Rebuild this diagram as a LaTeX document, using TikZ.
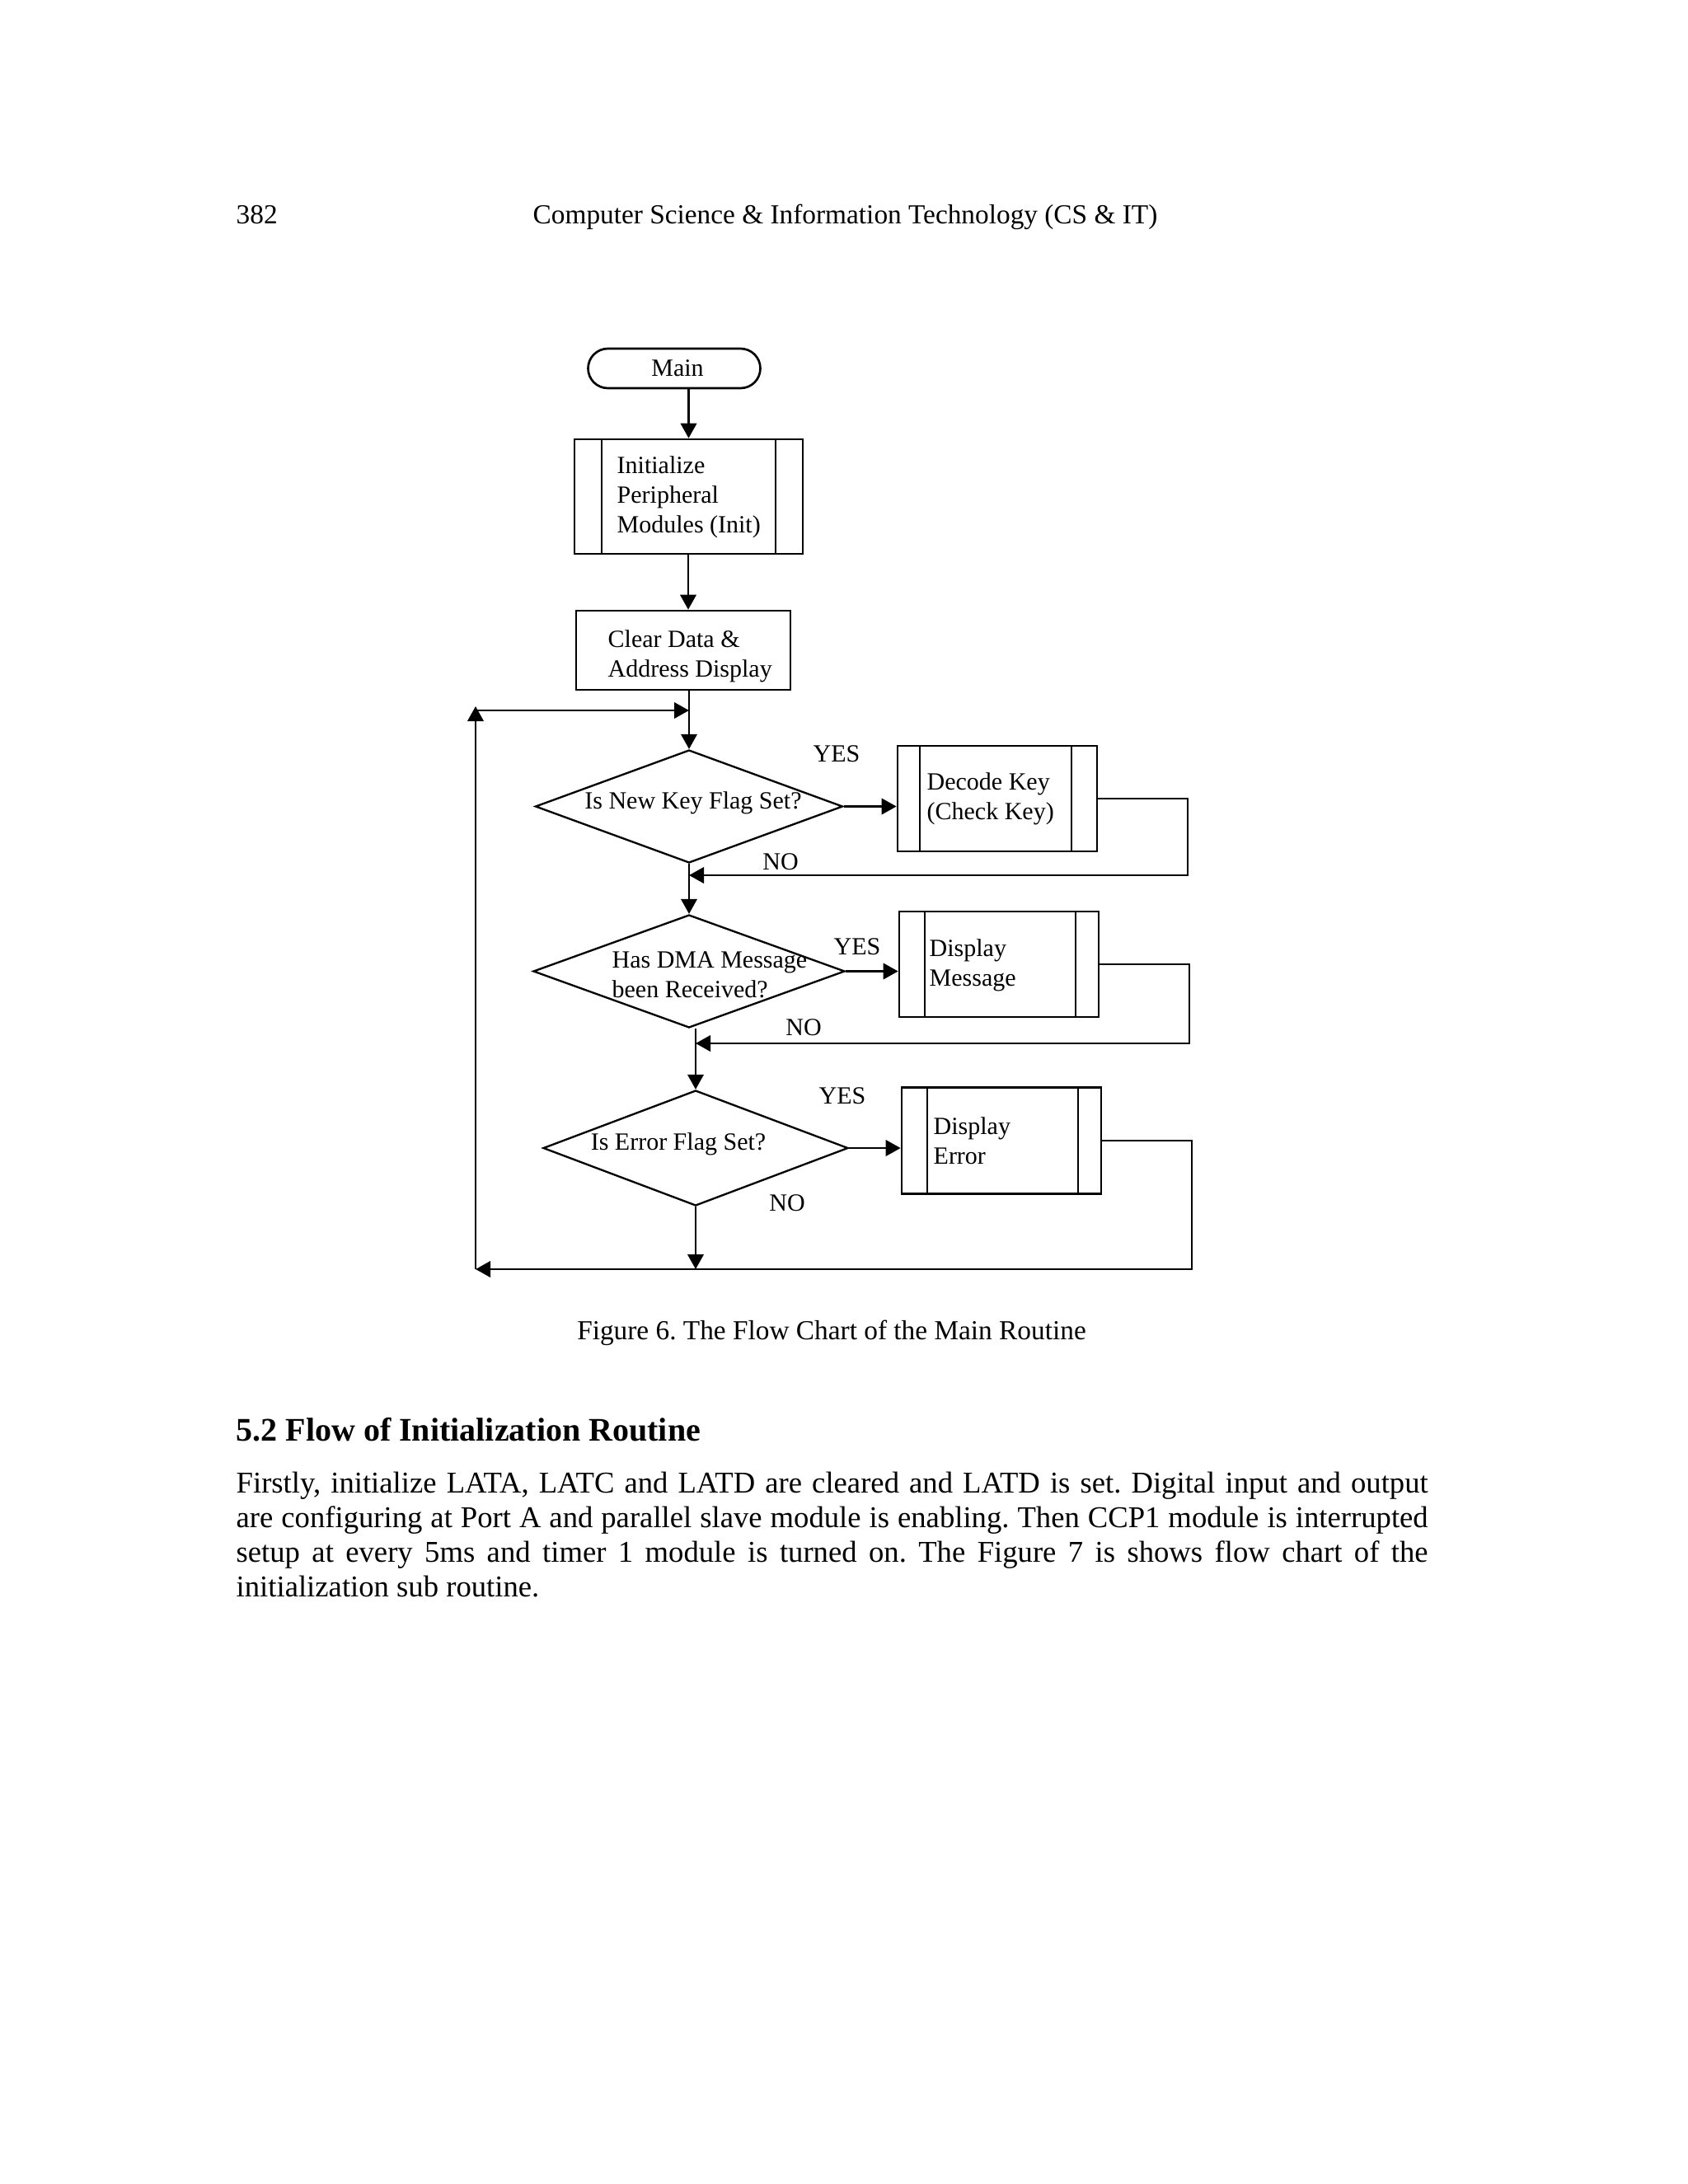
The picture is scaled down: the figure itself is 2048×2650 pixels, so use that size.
\documentclass[tikz,border=0pt]{standalone}
\usepackage{fontspec}
\setmainfont{Liberation Serif}
\usetikzlibrary{shapes.geometric,arrows.meta,calc}
\frenchspacing
\tikzset{
  ln/.style={line width=0.8pt},
  arr/.style={ln,-{Triangle[length=5.4pt,width=5.8pt]}},
  boxx/.style={draw,ln,rectangle,inner sep=0pt,minimum width=#1},
  dia/.style={draw,line width=0.7pt,diamond,inner sep=0pt},
  fc/.style={font=\fontsize{9}{10.8}\selectfont,inner sep=0pt,align=left},
  lbl/.style={font=\fontsize{9}{10.8}\selectfont,inner sep=0pt},
  pg/.style={inner sep=0pt}
}
\begin{document}
\begin{tikzpicture}[x=0.3pt,y=-0.3pt]
\useasboundingbox[fill=white] (0,0) rectangle (2048,2650);
% header
\node[pg,anchor=base west,font=\fontsize{10}{12}\selectfont] (pnum) at (286,271) {382};
\node[pg,anchor=base west,font=\fontsize{10}{12}\selectfont] (head) at (646,271) {Computer Science \& Information Technology (CS \& IT)};
% flowchart nodes
\node[draw,ln,rounded corners=7.2pt,minimum width=62.7pt,minimum height=14.4pt,inner sep=0pt,font=\fontsize{9}{10.8}\selectfont,text depth=0pt] (main) at (818,447) {\hspace*{2.4pt}Main};
\node[boxx=83.1pt,minimum height=41.7pt] (init) at (835.5,602.5) {};
\draw[ln] (730,533) -- (730,672) (941,533) -- (941,672);
\node[fc,anchor=west] (initt) at (748,603) {Initialize\\Peripheral\\Modules (Init)};
\node[boxx=78pt,minimum height=28.8pt] (clear) at (829,789) {};
\node[fc,anchor=west] (cleart) at (737,796.5) {Clear Data \&\\Address Display};
\node[dia,minimum width=111.9pt,minimum height=41.1pt] (d1) at (836,978.5) {};
\node[lbl] (d1t) at (841,974) {Is New Key Flag Set?};
\node[boxx=72.6pt,minimum height=38.4pt] (dec) at (1210,969) {};
\draw[ln] (1116,905) -- (1116,1033) (1300,905) -- (1300,1033);
\node[fc,anchor=west] (dect) at (1124,969.5) {Decode Key\\(Check Key)};
\node[dia,minimum width=113.4pt,minimum height=41.1pt] (d2) at (836,1178.5) {};
\node[fc,anchor=west] (d2t) at (742,1183) {Has DMA Message\\been Received?};
\node[boxx=72.6pt,minimum height=38.4pt] (msg) at (1212,1170) {};
\draw[ln] (1122,1106) -- (1122,1234) (1305,1106) -- (1305,1234);
\node[fc,anchor=west] (msgt) at (1127,1171) {Display\\Message};
\node[dia,minimum width=111pt,minimum height=42pt] (d3) at (844,1393) {};
\node[lbl] (d3t) at (823,1388) {Is Error Flag Set?};
\node[boxx=72.6pt,minimum height=38.7pt] (err) at (1215,1384) {};
\draw[ln] (1125,1319.5) -- (1125,1448.5) (1308,1319.5) -- (1308,1448.5);
\node[fc,anchor=west] (errt) at (1132,1384) {Display\\Error};
% labels
\node[lbl] (y1) at (1015,915) {YES};
\node[lbl] (n1) at (947,1046) {NO};
\node[lbl] (y2) at (1040,1149) {YES};
\node[lbl] (n2) at (975,1247) {NO};
\node[lbl] (y3) at (1022,1330) {YES};
\node[lbl] (n3) at (955,1460) {NO};
% coordinates
\coordinate (r1) at (1441,969);
\coordinate (r1b) at (1441,1062);
\coordinate (r2) at (1443,1170);
\coordinate (r2b) at (1443,1266);
\coordinate (r3) at (1446,1384);
\coordinate (r3b) at (1446,1540);
\coordinate (bl) at (577,1540);
\coordinate (tl) at (577,857);
\coordinate (tj) at (577,862);
% connectors
\draw[arr] (main.south -| init.north) -- (init.north);
\draw[arr] ($(init.south -| clear.north)+(6,0)$) -- ($(clear.north)+(6,0)$);
\draw[arr] (clear.south -| d1.north) -- (d1.north);
\draw[arr] (tj) -- (tj -| d1.north);
\draw[arr] (d1.east) -- (d1.east -| dec.west);
\draw[arr] (dec.east) -- (r1) -- (r1b) -- (r1b -| d1.south);
\draw[arr] (d1.south) -- (d2.north);
\draw[arr] (d2.east) -- (d2.east -| msg.west);
\draw[arr] (msg.east) -- (r2) -- (r2b) -- (r2b -| d3.north);
\draw[arr] (d2.south -| d3.north) -- (d3.north);
\draw[arr] (d3.east) -- (d3.east -| err.west);
\draw[arr] (err.east) -- (r3) -- (r3b) -- (bl);
\draw[arr] (d3.south) -- (d3.south |- bl);
\draw[arr] (bl) -- (tl);
% caption and text
\node[pg,anchor=base,font=\fontsize{10}{12}\selectfont] (cap) at (1009,1625) {Figure 6. The Flow Chart of the Main Routine};
\node[pg,anchor=base west,font=\fontsize{12}{14}\selectfont\bfseries] (sec) at (286,1748) {5.2 Flow of Initialization Routine};
\node[pg,anchor=base west,text width=433.8pt,align=justify,font=\fontsize{11}{12.67}\selectfont] (body) at (286,1811) {Firstly, initialize LATA, LATC and LATD are cleared and LATD is set. Digital input and output\linebreak are configuring at Port A and parallel slave module is enabling. Then CCP1 module is interrupted\linebreak setup at every 5ms and timer 1 module is turned on. The Figure 7 is shows flow chart of the\linebreak initialization sub routine.};
\end{tikzpicture}
\end{document}
